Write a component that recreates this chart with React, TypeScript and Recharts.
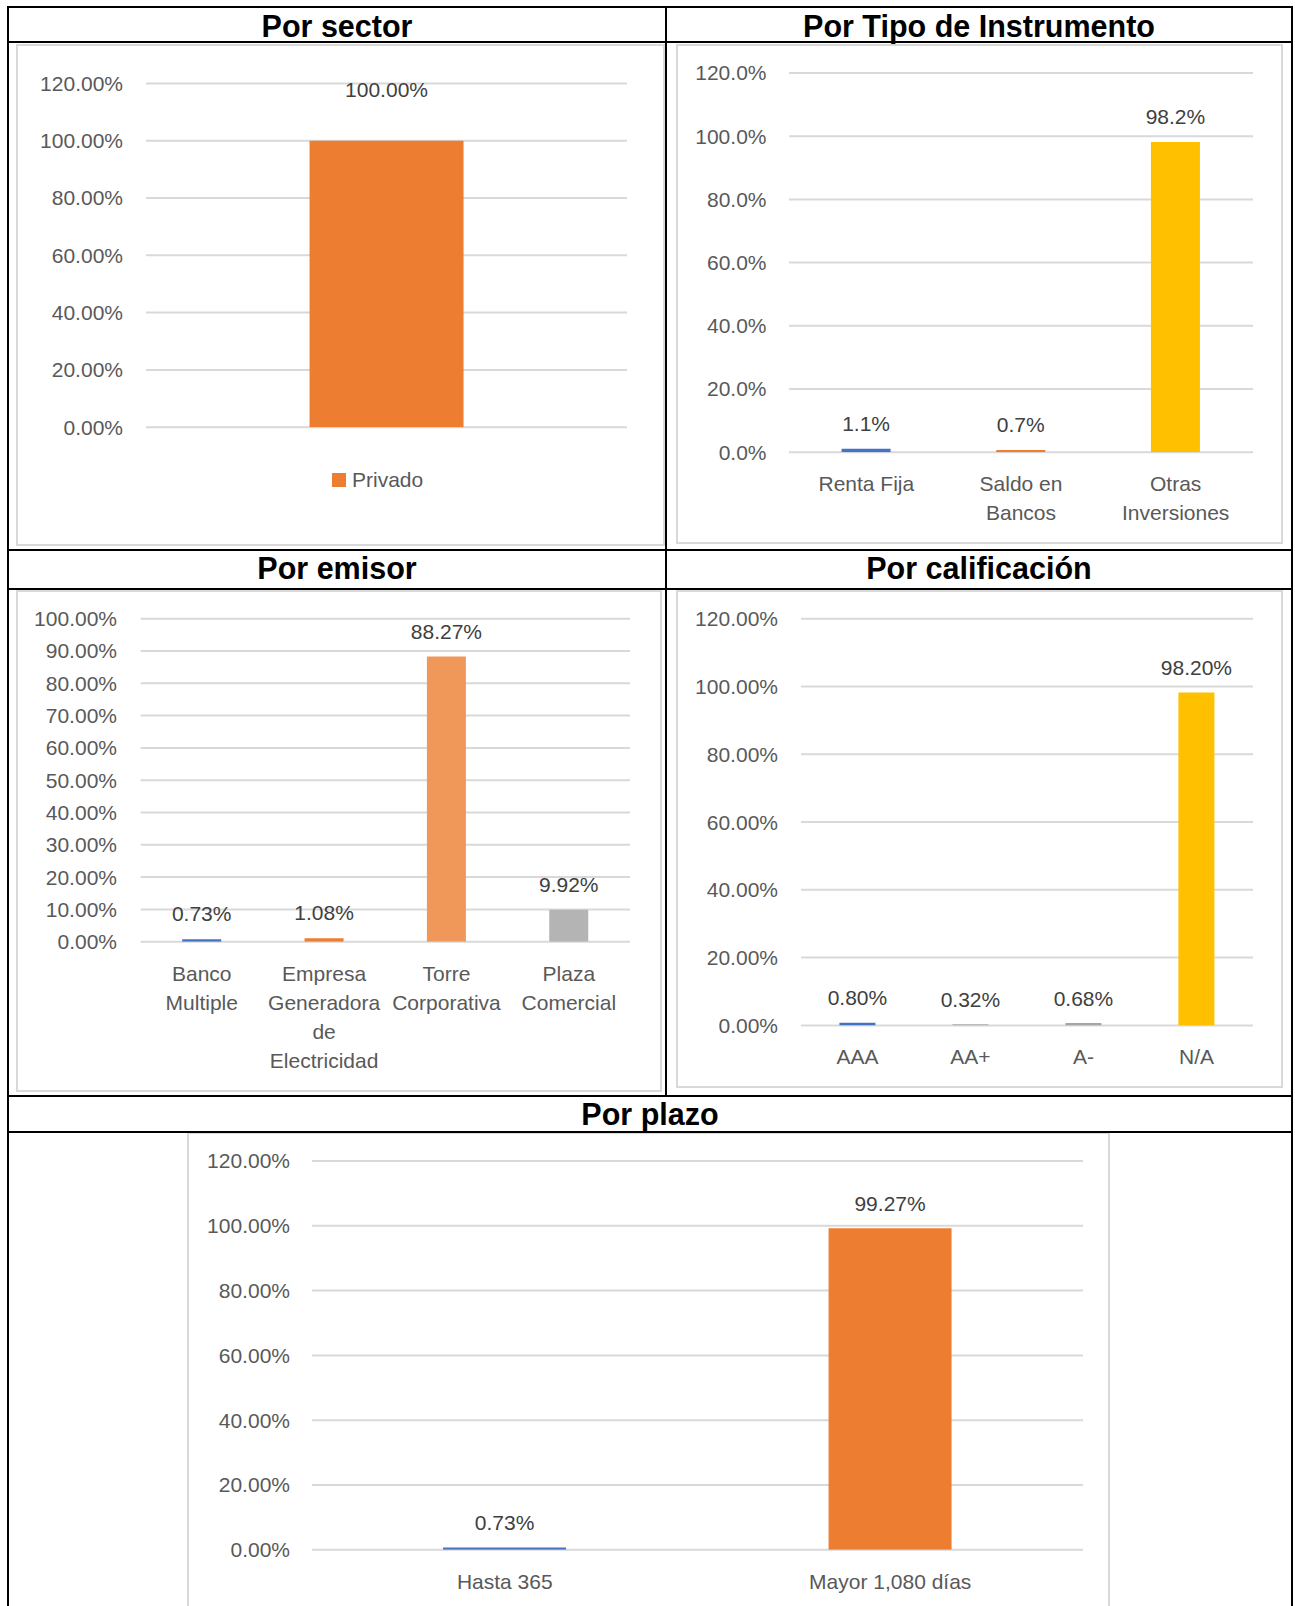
import React from 'react';
import { BarChart, Bar, XAxis, YAxis, CartesianGrid, Cell, LabelList, Legend } from 'recharts';

const FONT = '"Liberation Sans", Arial, Helvetica, sans-serif';
const TICK_COLOR = '#595959';
const LABEL_COLOR = '#404040';
const GRID = '#D9D9D9';
const BLUE = '#4472C4';
const ORANGE = '#ED7D31';
const GOLD = '#FFC000';

// ---------- data ----------
const sectorSeriesName = 'Privado';
const sectorCategories = [''];
const sectorValues = [100.0];

const instrumentoCategories = ['Renta Fija', 'Saldo en Bancos', 'Otras Inversiones'];
const instrumentoValues = [1.1, 0.7, 98.2];
const instrumentoTickLines = [['Renta Fija'], ['Saldo en', 'Bancos'], ['Otras', 'Inversiones']];

const emisorCategories = ['Banco Multiple', 'Empresa Generadora de Electricidad', 'Torre Corporativa', 'Plaza Comercial'];
const emisorValues = [0.73, 1.08, 88.27, 9.92];
const emisorTickLines = [['Banco', 'Multiple'], ['Empresa', 'Generadora', 'de', 'Electricidad'], ['Torre', 'Corporativa'], ['Plaza', 'Comercial']];

const calificacionCategories = ['AAA', 'AA+', 'A-', 'N/A'];
const calificacionValues = [0.8, 0.32, 0.68, 98.2];
const calificacionTickLines = [['AAA'], ['AA+'], ['A-'], ['N/A']];

const plazoCategories = ['Hasta 365', 'Mayor 1,080 días'];
const plazoValues = [0.73, 99.27];
const plazoTickLines = [['Hasta 365'], ['Mayor 1,080 días']];

const ticks120 = [0, 20, 40, 60, 80, 100, 120];
const ticks100 = [0, 10, 20, 30, 40, 50, 60, 70, 80, 90, 100];

// colours per bar
const sectorColors = [ORANGE];
const instrumentoColors = [BLUE, ORANGE, GOLD];
const emisorColors = [BLUE, ORANGE, '#F0985A', '#B4B4B4'];
const calificacionColors = [BLUE, '#ADADAD', '#A5A5A5', GOLD];
const plazoColors = [BLUE, ORANGE];

const toData = (cats: string[], vals: number[]) => cats.map((c, i) => ({ name: c, value: vals[i] }));

const pct = (d: number) => (v: any) => `${Number(v).toFixed(d)}%`;

function makeBarLabel(gap: number, digits: number) {
  return (props: any) => {
    const vb = props.viewBox || {};
    const x = vb.x ?? props.x;
    const y = vb.y ?? props.y;
    const w = vb.width ?? props.width;
    if (x == null || y == null) return null;
    return (
      <text x={x + w / 2} y={y - gap + 7.5} textAnchor="middle" fill={LABEL_COLOR} fontSize={21} fontFamily={FONT}>
        {pct(digits)(props.value)}
      </text>
    );
  };
}

function makeXTick(lines: string[][]) {
  return (props: any) => {
    const { x, y, index } = props;
    const ls = lines[index] || [String(props.payload?.value ?? '')];
    return (
      <text x={x} y={y + 39} textAnchor="middle" fill={TICK_COLOR} fontSize={21} fontFamily={FONT}>
        {ls.map((l, i) => (
          <tspan key={i} x={x} dy={i === 0 ? 0 : 29}>
            {l}
          </tspan>
        ))}
      </text>
    );
  };
}

type PanelProps = {
  left: number;
  top: number;
  width: number;
  height: number;
  margin: { top: number; right: number; bottom: number; left: number };
  yGap: number;
  ticks: number[];
  digits: number;
  data: { name: string; value: number }[];
  colors: string[];
  lines?: string[][];
  labelGap: number;
  xHeight?: number;
  hideX?: boolean;
  seriesName?: string;
  legend?: { left: number; top: number };
};

function Panel(p: PanelProps) {
  const max = p.ticks[p.ticks.length - 1];
  return (
    <div style={{ position: 'absolute', left: p.left, top: p.top }}>
      <BarChart width={p.width} height={p.height} data={p.data} margin={p.margin} barCategoryGap="34%">
        <CartesianGrid vertical={false} stroke={GRID} strokeWidth={2} />
        <XAxis
          dataKey="name"
          hide={p.hideX}
          axisLine={false}
          tickLine={false}
          tickSize={0}
          tickMargin={0}
          height={p.xHeight ?? 30}
          interval={0}
          tick={makeXTick(p.lines || [])}
        />
        <YAxis
          type="number"
          domain={[0, max]}
          ticks={p.ticks}
          interval={0}
          allowDataOverflow
          tickFormatter={pct(p.digits)}
          axisLine={false}
          tickLine={false}
          tickSize={0}
          tickMargin={p.yGap}
          width={80}
          tick={{ fill: TICK_COLOR, fontSize: 21, fontFamily: FONT }}
        />
        {p.legend && (
          <Legend
            layout="horizontal"
            verticalAlign="middle"
            align="center"
            wrapperStyle={{ left: p.legend.left, top: p.legend.top, width: 200, height: 24 }}
            content={(lp: any) => (
              <div style={{ display: 'flex', alignItems: 'center', height: 24 }}>
                {(lp.payload || []).map((e: any, i: number) => (
                  <div key={i} style={{ display: 'flex', alignItems: 'center' }}>
                    <span style={{ width: 13.5, height: 13.5, background: e.color, display: 'inline-block', marginRight: 6.5 }} />
                    <span style={{ fontSize: 21, color: TICK_COLOR, fontFamily: FONT, lineHeight: '24px' }}>{e.value}</span>
                  </div>
                ))}
              </div>
            )}
          />
        )}
        <Bar dataKey="value" name={p.seriesName ?? 'value'} fill={p.colors[0]} isAnimationActive={false}>
          {p.data.map((d, i) => (
            <Cell key={i} fill={p.colors[i]} />
          ))}
          <LabelList dataKey="value" content={makeBarLabel(p.labelGap, p.digits)} />
        </Bar>
      </BarChart>
    </div>
  );
}

const Line = ({ l, t, w, h }: { l: number; t: number; w: number; h: number }) => (
  <div style={{ position: 'absolute', left: l, top: t, width: w, height: h, background: '#000' }} />
);

const Frame = ({ l, t, w, h }: { l: number; t: number; w: number; h: number }) => (
  <div style={{ position: 'absolute', left: l, top: t, width: w, height: h, border: `2px solid ${GRID}`, boxSizing: 'border-box' }} />
);

const Title = ({ text, l, w, t }: { text: string; l: number; w: number; t: number }) => (
  <div
    style={{
      position: 'absolute',
      left: l,
      top: t,
      width: w,
      height: 33,
      lineHeight: '33px',
      textAlign: 'center',
      fontFamily: FONT,
      fontWeight: 'bold',
      fontSize: 30.5,
      color: '#000',
      whiteSpace: 'nowrap',
    }}
  >
    {text}
  </div>
);

export default function App() {
  return (
    <div style={{ position: 'absolute', left: 0, top: 0, width: 1295, height: 1606, background: '#fff', overflow: 'hidden' }}>
      {/* chart frames */}
      <Frame l={16} t={44} w={649} h={502} />
      <Frame l={676} t={44} w={607} h={500} />
      <Frame l={16} t={590} w={646} h={502} />
      <Frame l={676} t={590} w={607} h={498} />
      <Frame l={187} t={1132} w={923} h={520} />

      {/* titles */}
      <Title text="Por sector" l={9} w={656} t={9.5} />
      <Title text="Por Tipo de Instrumento" l={667} w={624} t={9.5} />
      <Title text="Por emisor" l={9} w={656} t={552.4} />
      <Title text="Por calificación" l={667} w={624} t={552.4} />
      <Title text="Por plazo" l={9} w={1282} t={1098} />

      {/* charts */}
      <Panel
        left={18}
        top={46}
        width={645}
        height={498}
        margin={{ top: 37.4, right: 36, bottom: 116.8, left: 48 }}
        yGap={23}
        ticks={ticks120}
        digits={2}
        data={toData(sectorCategories, sectorValues)}
        colors={sectorColors}
        labelGap={51}
        hideX
        seriesName={sectorSeriesName}
        legend={{ left: 314, top: 422 }}
      />
      <Panel
        left={678}
        top={46}
        width={603}
        height={496}
        margin={{ top: 27, right: 28, bottom: 9.8, left: 31 }}
        yGap={22.5}
        ticks={ticks120}
        digits={1}
        data={toData(instrumentoCategories, instrumentoValues)}
        colors={instrumentoColors}
        lines={instrumentoTickLines}
        labelGap={25}
        xHeight={80}
      />
      <Panel
        left={18}
        top={592}
        width={642}
        height={498}
        margin={{ top: 26.7, right: 30, bottom: 8.3, left: 42.6 }}
        yGap={23.6}
        ticks={ticks100}
        digits={2}
        data={toData(emisorCategories, emisorValues)}
        colors={emisorColors}
        lines={emisorTickLines}
        labelGap={25.5}
        xHeight={140}
      />
      <Panel
        left={678}
        top={592}
        width={603}
        height={494}
        margin={{ top: 26.7, right: 28, bottom: 5.6, left: 43 }}
        yGap={23}
        ticks={ticks120}
        digits={2}
        data={toData(calificacionCategories, calificacionValues)}
        colors={calificacionColors}
        lines={calificacionTickLines}
        labelGap={25}
        xHeight={55}
      />
      <Panel
        left={189}
        top={1134}
        width={919}
        height={472}
        margin={{ top: 27, right: 25, bottom: 6.2, left: 43 }}
        yGap={22}
        ticks={ticks120}
        digits={2}
        data={toData(plazoCategories, plazoValues)}
        colors={plazoColors}
        lines={plazoTickLines}
        labelGap={24.5}
        xHeight={50}
      />

      {/* table borders */}
      <Line l={7} t={6} w={2} h={1600} />
      <Line l={1291} t={6} w={2} h={1600} />
      <Line l={7} t={6} w={1286} h={2} />
      <Line l={7} t={41} w={1286} h={2} />
      <Line l={665} t={6} w={2} h={1090} />
      <Line l={7} t={549} w={1286} h={2} />
      <Line l={7} t={588} w={1286} h={2} />
      <Line l={7} t={1095} w={1286} h={2} />
      <Line l={7} t={1131} w={1286} h={2} />
    </div>
  );
}
